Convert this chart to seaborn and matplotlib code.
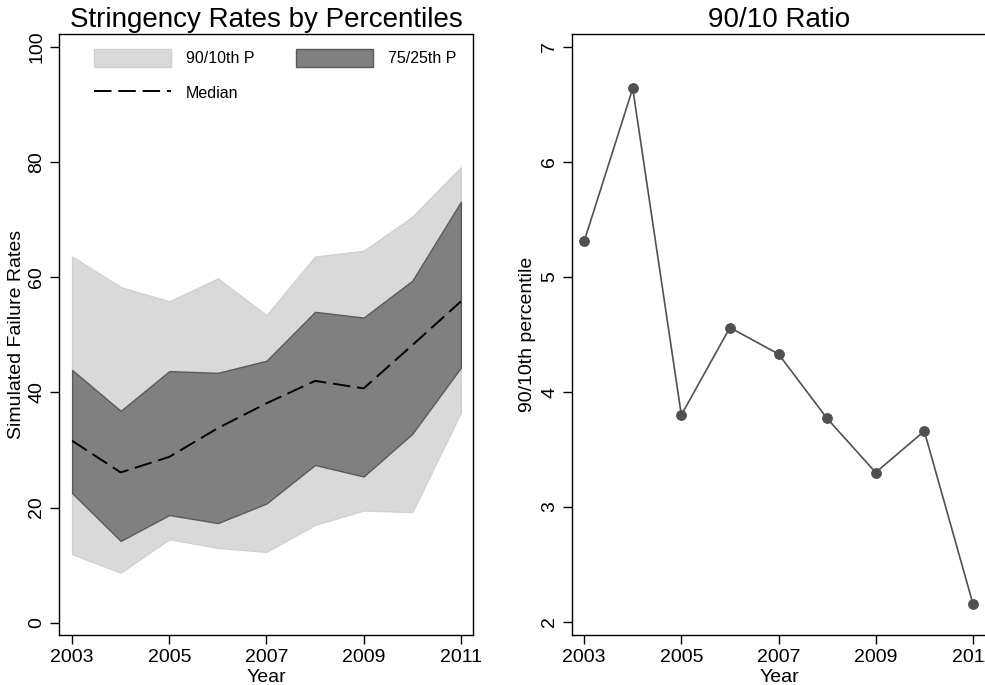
import matplotlib
matplotlib.use("Agg")
import matplotlib.pyplot as plt
import seaborn as sns
import pandas as pd
from matplotlib.patches import Patch
from matplotlib.lines import Line2D

years = [2003, 2004, 2005, 2006, 2007, 2008, 2009, 2010, 2011]
p90 = [63.6, 58.3, 55.8, 59.8, 53.4, 63.6, 64.6, 70.5, 79.1]
p75 = [43.9, 36.8, 43.7, 43.4, 45.5, 54.0, 53.0, 59.4, 73.1]
median = [31.6, 26.1, 28.8, 33.8, 38.1, 42.0, 40.7, 48.2, 55.8]
p25 = [22.5, 14.2, 18.7, 17.3, 20.7, 27.4, 25.4, 32.8, 44.3]
p10 = [11.9, 8.7, 14.5, 13.0, 12.3, 17.0, 19.5, 19.2, 36.5]
ratio = [5.31, 6.64, 3.80, 4.56, 4.33, 3.77, 3.30, 3.66, 2.16]

xticks = [2003, 2005, 2007, 2009, 2011]
yticks_left = [0, 20, 40, 60, 80, 100]
yticks_right = [2, 3, 4, 5, 6, 7]

df = pd.DataFrame({"Year": years, "p90": p90, "p75": p75, "median": median,
                   "p25": p25, "p10": p10, "ratio": ratio})

sns.set_theme(style="white")
plt.rcParams["font.family"] = ["Liberation Sans", "DejaVu Sans"]
plt.rcParams["text.color"] = "black"
plt.rcParams["axes.labelcolor"] = "black"
plt.rcParams["xtick.color"] = "black"
plt.rcParams["ytick.color"] = "black"

fig = plt.figure(figsize=(9.85, 6.85), dpi=100)
ax1 = fig.add_axes([59/985, 1-635/685, 414/985, 601/685])
ax2 = fig.add_axes([572/985, 1-635/685, 414/985, 601/685])

light = "#d9d9d9"
dark = "#808080"
dash = (9, 3.5)

ax1.fill_between(df["Year"], df["p10"], df["p90"], color=light, edgecolor="#d0d0d0", lw=1, zorder=1)
ax1.fill_between(df["Year"], df["p25"], df["p75"], color=dark, edgecolor="#5a5a5a", lw=1, zorder=2)
sns.lineplot(data=df, x="Year", y="median", ax=ax1, color="black", lw=1.4, zorder=3)
ax1.lines[-1].set_dashes(dash)

ax1.set_xlim(2002.73, 2011.25)
ax1.set_ylim(-2.14, 102.26)
ax1.set_xticks(xticks)
ax1.set_yticks(yticks_left)
ax1.set_xlabel("Year", fontsize=14, labelpad=2.5)
ax1.set_ylabel("Simulated Failure Rates", fontsize=14, labelpad=2.5)
ax1.set_title("Stringency Rates by Percentiles", fontsize=20, pad=5)

handles = [Patch(facecolor=light, edgecolor="#d0d0d0", label="90/10th P"),
           Line2D([0], [0], color="black", lw=1.4, dashes=dash, label="Median"),
           Patch(facecolor=dark, edgecolor="#5a5a5a", label="75/25th P")]
ax1.legend(handles=handles, ncol=2, loc="upper left", bbox_to_anchor=(0.085, 0.975),
           frameon=False, fontsize=11.5, handlelength=4.8, handleheight=1.35,
           handletextpad=0.95, columnspacing=2.6, labelspacing=1.05,
           borderpad=0, borderaxespad=0)

sns.lineplot(data=df, x="Year", y="ratio", ax=ax2, color="#505050", lw=1.2,
             marker="o", markersize=7, markeredgecolor="#505050", markerfacecolor="#505050")
ax2.set_xlim(2002.75, 2011.27)
ax2.set_ylim(1.887, 7.113)
ax2.set_xticks(xticks)
ax2.set_yticks(yticks_right)
ax2.set_xlabel("Year", fontsize=14, labelpad=2.5)
ax2.set_ylabel("90/10th percentile", fontsize=14, labelpad=4)
ax2.set_title("90/10 Ratio", fontsize=20, pad=5)

for ax in (ax1, ax2):
    for s in ax.spines.values():
        s.set_visible(True)
        s.set_color("black")
        s.set_linewidth(1.0)
    ax.tick_params(axis="both", which="major", direction="out", length=6.5, width=1,
                   color="black", labelsize=14, bottom=True, left=True, pad=3.5)
    for lab in ax.get_yticklabels():
        lab.set_rotation(90)
        lab.set_va("center")
    ax.grid(False)

fig.savefig("out.png", dpi=100)
